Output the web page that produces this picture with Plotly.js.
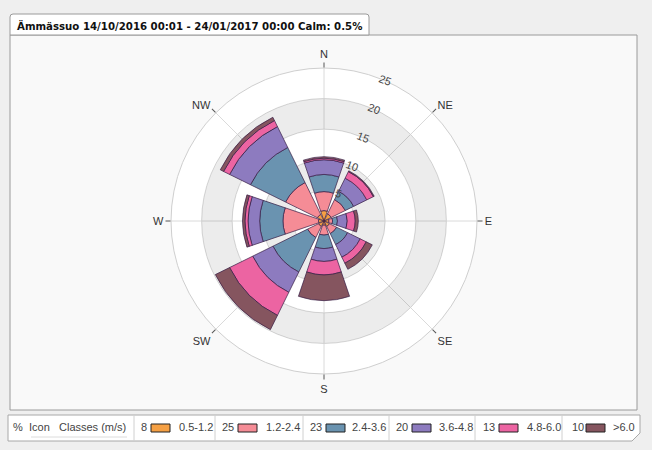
<!DOCTYPE html>
<html>
<head>
<meta charset="utf-8">
<script src="https://cdn.plot.ly/plotly-3.0.1.min.js"></script>
<style>html,body{margin:0;padding:0;background:#efefef;}#chart{width:652px;height:450px;}</style>
</head>
<body>
<div id="chart"></div>
<script>
// ---- data ----
var directions = ['N', 'NE', 'E', 'SE', 'S', 'SW', 'W', 'NW'];
var classLabels = ['0.5-1.2', '1.2-2.4', '2.4-3.6', '3.6-4.8', '4.8-6.0', '>6.0'];
var classShares = [8, 25, 23, 20, 13, 10];
var speed05_12 = [1.7, 1.3, 0.8, 1.0, 0.7, 1.0, 0.9, 1.2];
var speed12_24 = [3.1, 2.6, 0.6, 1.3, 1.6, 2.0, 5.8, 5.8];
var speed24_36 = [2.8, 1.5, 0.8, 2.0, 2.2, 6.3, 3.8, 6.4];
var speed36_48 = [2.4, 2.4, 1.6, 2.3, 2.1, 3.7, 1.9, 3.8];
var speed48_60 = [0.25, 1.2, 1.3, 1.1, 2.2, 4.2, 0.5, 1.1];
var speed60p   = [0.25, 0.15, 0.5, 1.1, 4.2, 2.6, 0.4, 0.6];
var radialTicks = [5, 10, 15, 20, 25];
var bandStarts = [5, 15];
var bandSize = 5;
var titleText = 'Ämmässuo 14/10/2016 00:01 - 24/01/2017 00:00 Calm: 0.5%';

// ---- styling ----
var colors = ['#f5a044', '#f58c96', '#6a93b0', '#8d7bbf', '#ec64a2', '#85555f'];
var W = 652, H = 450;
function px(x) { return x / W; }
function py(y) { return 1 - y / H; }

var series = [speed05_12, speed12_24, speed24_36, speed36_48, speed48_60, speed60p];
var thetas = directions.map(function (d, i) { return i * 360 / directions.length; });

var traces = [];
// background bands
traces.push({
  type: 'barpolar',
  r: bandStarts.map(function () { return bandSize; }),
  base: bandStarts,
  theta: bandStarts.map(function () { return 0; }),
  width: bandStarts.map(function () { return 360; }),
  marker: { color: 'rgba(0,0,0,0.075)', line: { width: 0 } },
  hoverinfo: 'skip',
  showlegend: false
});
var cum = directions.map(function () { return 0; });
series.forEach(function (vals, k) {
  traces.push({
    type: 'barpolar',
    name: classLabels[k],
    r: vals,
    base: cum.slice(),
    theta: thetas,
    width: thetas.map(function () { return 37.5; }),
    marker: { color: colors[k], line: { color: 'rgba(55,30,70,0.7)', width: 1 } },
    showlegend: false
  });
  cum = cum.map(function (c, i) { return c + vals[i]; });
});

var shapes = [];
var annotations = [];
// chart box
shapes.push({ type: 'rect', xref: 'paper', yref: 'paper', x0: px(10), x1: px(637), y0: py(410), y1: py(35),
  fillcolor: '#f9f9f9', line: { color: '#9a9a9a', width: 1 }, layer: 'below' });
// title tab
shapes.push({ type: 'path', xref: 'paper', yref: 'paper', layer: 'below',
  path: 'M ' + px(10) + ',' + py(35) + ' L ' + px(10) + ',' + py(17) + ' Q ' + px(10) + ',' + py(14) + ' ' + px(13) + ',' + py(14) +
        ' L ' + px(366) + ',' + py(14) + ' Q ' + px(369) + ',' + py(14) + ' ' + px(369) + ',' + py(17) + ' L ' + px(369) + ',' + py(35) + ' Z',
  fillcolor: '#ffffff', line: { color: '#9a9a9a', width: 1 } });
annotations.push({ xref: 'paper', yref: 'paper', x: px(15), y: py(25), xanchor: 'left', yanchor: 'middle', showarrow: false,
  text: '<b>' + titleText + '</b>', font: { family: 'DejaVu Sans', size: 10.2, color: '#111' } });

// legend table
shapes.push({ type: 'path', xref: 'paper', yref: 'paper', layer: 'below',
  path: 'M ' + px(8) + ',' + py(415) + ' L ' + px(640) + ',' + py(415) + ' L ' + px(640) + ',' + py(433) + ' L ' + px(632) + ',' + py(441) +
        ' L ' + px(8) + ',' + py(441) + ' Z',
  fillcolor: '#ffffff', line: { color: '#a8a8a8', width: 1 } });
var legFont = { family: 'Liberation Sans, Arial', size: 11, color: '#444' };
annotations.push({ xref: 'paper', yref: 'paper', x: px(11), y: py(427), xanchor: 'left', yanchor: 'middle', showarrow: false, text: '%', font: legFont });
annotations.push({ xref: 'paper', yref: 'paper', x: px(27), y: py(427), xanchor: 'left', yanchor: 'middle', showarrow: false, text: 'Icon', font: legFont });
annotations.push({ xref: 'paper', yref: 'paper', x: px(57), y: py(427), xanchor: 'left', yanchor: 'middle', showarrow: false, text: 'Classes (m/s)', font: legFont });
shapes.push({ type: 'line', xref: 'paper', yref: 'paper', x0: px(31), x1: px(127), y0: py(437), y1: py(437), line: { color: '#dcdcdc', width: 1 } });
var dividers = [134, 215, 303, 389, 475, 562];
var valueX = [139, 220, 308, 394, 481, 570];
var swatchX = [151, 238, 326, 412, 499, 586];
var labelX = [177, 264, 350, 437, 525, 611];
classLabels.forEach(function (lab, k) {
  shapes.push({ type: 'line', xref: 'paper', yref: 'paper', x0: px(dividers[k]), x1: px(dividers[k]), y0: py(415), y1: py(441), line: { color: '#d0d0d0', width: 1 } });
  shapes.push({ type: 'rect', xref: 'paper', yref: 'paper', x0: px(swatchX[k]), x1: px(swatchX[k] + 19), y0: py(432), y1: py(424),
    fillcolor: colors[k], line: { color: '#222', width: 1 } });
  annotations.push({ xref: 'paper', yref: 'paper', x: px(valueX[k]), y: py(427), xanchor: 'left', yanchor: 'middle', showarrow: false,
    text: String(classShares[k]), font: legFont });
  annotations.push({ xref: 'paper', yref: 'paper', x: px(labelX[k]), y: py(427), xanchor: 'left', yanchor: 'middle', showarrow: false,
    text: lab.replace('>', '&gt;'), font: legFont });
});

var layout = {
  width: W, height: H, autosize: false,
  margin: { l: 0, r: 0, t: 0, b: 0 },
  paper_bgcolor: '#efefef',
  showlegend: false,
  shapes: shapes,
  annotations: annotations,
  polar: {
    domain: { x: [px(324 - 153), px(324 + 153)], y: [py(221 + 153), py(221 - 153)] },
    bgcolor: '#ffffff',
    barmode: 'overlay',
    radialaxis: {
      range: [0, 25], tickvals: radialTicks, ticktext: radialTicks.map(String),
      angle: 69, tickangle: 90, showline: false, ticks: '', gridcolor: '#dadada', gridwidth: 1,
      tickfont: { family: 'Liberation Sans, Arial', size: 11, color: '#444' }
    },
    angularaxis: {
      rotation: 90, direction: 'clockwise',
      tickmode: 'array', tickvals: thetas, ticktext: directions,
      showline: true, linecolor: '#cfcfcf', linewidth: 1,
      gridcolor: '#dadada', ticks: 'outside', ticklen: 5, tickcolor: '#555',
      tickfont: { family: 'Liberation Sans, Arial', size: 11, color: '#333' }
    }
  }
};

Plotly.newPlot('chart', traces, layout, { staticPlot: true, displayModeBar: false });
</script>
</body>
</html>
